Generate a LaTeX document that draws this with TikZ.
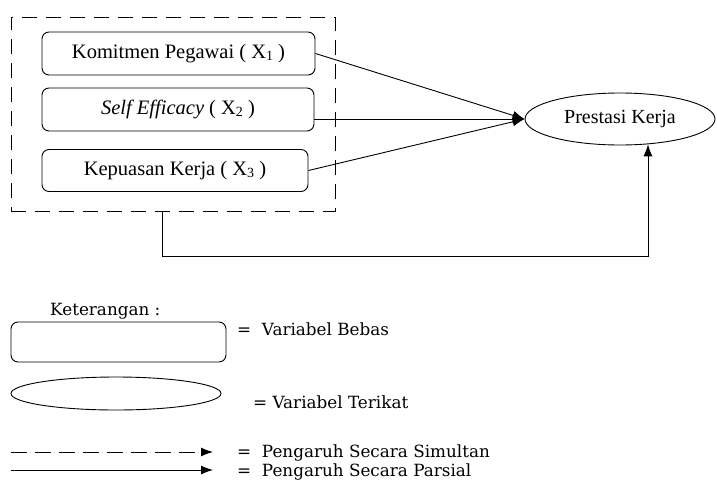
\documentclass[tikz,border=0pt]{standalone}
\usepackage{fontspec}
\setmainfont{Liberation Serif}
\newfontfamily\legfont{DejaVu Serif}
\usetikzlibrary{arrows.meta,positioning,calc,shapes.geometric}
\newcommand{\lowsub}[1]{\raisebox{-0.25ex}{\fontsize{14}{14}\selectfont #1}}

\begin{document}
\begin{tikzpicture}[x=1pt,y=-1pt,
  varbox/.style={draw,rounded corners=7pt,line width=0.9pt,inner sep=0pt,font=\fontsize{20.5}{24}\selectfont},
  varell/.style={draw,ellipse,line width=0.9pt,inner sep=0pt},
  arr/.style={line width=0.9pt,-{Latex[length=12pt,width=9pt]}},
  legtxt/.style={anchor=base west,inner sep=0pt,font=\legfont\fontsize{16.8}{20}\selectfont}]
\useasboundingbox (0,0) rectangle (717,482);
% kelompok variabel bebas
\node[draw,dash pattern=on 15pt off 9pt,line width=0.9pt,minimum width=324pt,minimum height=194pt,inner sep=0pt] (grp) at (173,114) {};
\node[varbox,minimum width=273pt,minimum height=43pt] (x1) at (178.5,53.5) {Komitmen Pegawai ( X\lowsub{1} )};
\node[varbox,minimum width=272pt,minimum height=43pt] (x2) at (178,109.5) {\textit{Self Efficacy} ( X\lowsub{2} )};
\node[varbox,minimum width=266pt,minimum height=42pt] (x3) at (175,170.5) {Kepuasan Kerja ( X\lowsub{3} )};
\node[varell,minimum width=190pt,minimum height=52pt,font=\fontsize{20}{24}\selectfont] (pk) at (620,119) {Prestasi Kerja};
\draw[arr] (x1.east) -- (pk.west);
\draw[arr] (x2.east |- pk.west) -- (pk.west);
\draw[arr] (x3.east) -- (pk.west);
\coordinate (turnL) at (162,256);\coordinate (turnR) at (648,256);
\draw[arr] (grp.south -| turnL) -- (turnL) -- (turnR) -- (turnR |- pk.318);
% keterangan
\node[legtxt] (ket) at (50,315) {Keterangan :};
\node[draw,rounded corners=7pt,line width=0.9pt,minimum width=215pt,minimum height=40pt] (lbox) at (118.5,342) {};
\node[legtxt] (lboxt) at (237,335) {=\ \ Variabel Bebas};
\node[varell,minimum width=210pt,minimum height=33pt] (lell) at (116,393.5) {};
\node[legtxt] (lellt) at (253,408) {= Variabel Terikat};
\coordinate (simA) at (11,452);\coordinate (simB) at (213,452);
\draw[arr,dash pattern=on 16pt off 8pt] (simA) -- (simB);
\node[legtxt] (simt) at (237,457) {=\ \ Pengaruh Secara Simultan};
\coordinate (parA) at (11,470);\coordinate (parB) at (213,470);
\draw[arr] (parA) -- (parB);
\node[legtxt] (part) at (237,476) {=\ \ Pengaruh Secara Parsial};
\end{tikzpicture}
\end{document}
